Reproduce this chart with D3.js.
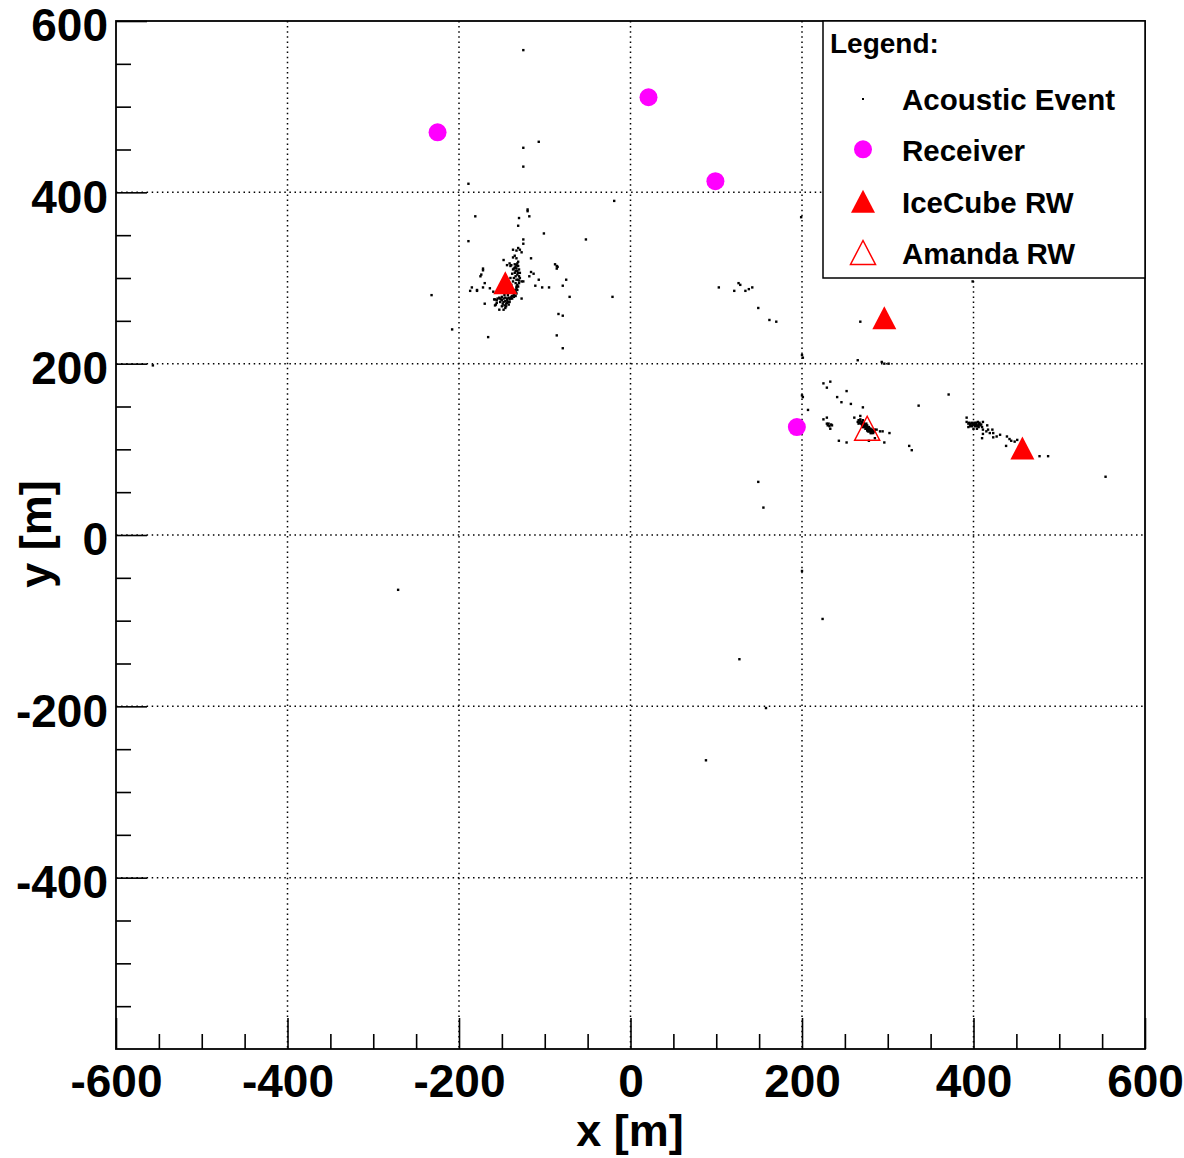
<!DOCTYPE html>
<html>
<head>
<meta charset="utf-8">
<script src="https://cdn.jsdelivr.net/npm/d3@7"></script>
<style>
  body { margin: 0; background: #fff; }
  svg { display: block; }
  text { font-family: "Liberation Sans", Arial, Helvetica, sans-serif; font-weight: bold; fill: #000; }
</style>
</head>
<body>
<svg id="chart" width="1184" height="1158"></svg>
<script>
// ---- data (metres) ----
var xTicks = [-600, -400, -200, 0, 200, 400, 600];
var yTicks = [-400, -200, 0, 200, 400, 600];
var gridValues = [-400, -200, 0, 200, 400];

var receivers = [[-225, 470], [21, 511], [99, 413], [194, 126]];
var icecubeRW = [[-146, 294], [296, 253], [457, 101]];
var amandaRW = [[276, 124]];

var legendLabels = ["Acoustic Event", "Receiver", "IceCube RW", "Amanda RW"];

// acoustic event positions
var events = [
  [-125, 566], [-107, 459], [-125, 452], [-125, 430], [-189, 410],
  [-19, 390], [-181, 372], [-120, 380], [-120, 378], [-118, 372], [-130, 370], [-131, 361],
  [-101, 352], [-189, 343], [-125, 345], [-125, 340], [-52, 345], [-129, 333], [-127, 330],
  [-137, 333], [-135, 326], [-137, 324], [-133, 323], [-116, 323], [-148, 321], [-131, 335],
  [-133, 332], [-131, 319], [-88, 316], [-86, 314], [-86, 311], [-85, 313], [-172, 311],
  [-174, 304], [-175, 302], [-172, 309], [-141, 317], [-144, 315], [-139, 315], [-135, 316],
  [-140, 314], [-136, 311], [-133, 311], [-116, 307], [-113, 305], [-118, 302],
  [-75, 298], [-107, 298], [-103, 289], [-95, 289], [-127, 296], [-125, 296], [-133, 298],
  [-111, 291], [-79, 291], [-170, 294], [-179, 286], [-185, 289], [-187, 285], [-179, 285],
  [-172, 289], [-164, 288], [-160, 284], [-232, 280], [-21, 278], [-71, 278], [-127, 276],
  [-158, 275], [-156, 271], [-152, 272], [-148, 272], [-145, 270], [-141, 275], [-139, 278],
  [-159, 275], [-156, 274], [-150, 274], [-144, 274], [-158, 268], [-150, 267], [-148, 263],
  [-153, 263], [-170, 270], [-157, 269], [-146, 265], [-142, 269], [-84, 258], [-79, 256],
  [-208, 240], [-166, 231], [-86, 233], [-79, 218],
  [-137, 310], [-135, 306], [-134, 302], [-134, 294], [-133, 290], [-135, 286], [-136, 282],
  [-138, 279], [-140, 300], [-139, 292], [-141, 285], [-137, 296], [-138, 305], [-136, 300],
  [-134, 308], [-150, 278], [-146, 277], [-143, 280], [-152, 276], [-147, 280],
  [-131, 314], [-130, 310], [-129, 306], [-130, 302], [-131, 298], [-130, 294], [-131, 290],
  [-132, 286], [-133, 282], [-134, 279], [-132, 304], [-132, 308], [-131, 306], [-129, 300],
  [-130, 297], [-132, 292], [-133, 288], [-134, 284], [-136, 280], [-138, 276], [-140, 276],
  [-142, 277], [-144, 276], [-148, 276], [-151, 275], [-153, 277], [-155, 276], [-146, 273],
  [-143, 272], [-149, 270], [-147, 268], [-145, 267], [-144, 271], [-141, 272], [-136, 278],
  [-135, 312], [-133, 315], [-132, 317], [-134, 313],
  [-557, 198], [-271, -64],
  [103, 289], [121, 285], [126, 294], [128, 292], [134, 285], [138, 287], [142, 289],
  [149, 265], [162, 251], [170, 249], [268, 249], [200, 210], [201, 207], [265, 204],
  [293, 202], [296, 200], [301, 200], [199, 371], [399, 296],
  [225, 177], [229, 172], [233, 179], [200, 163], [201, 161], [241, 161], [246, 155],
  [252, 168], [257, 153], [207, 146], [271, 149], [336, 151], [371, 164],
  [225, 135], [229, 137], [231, 130], [235, 128], [233, 124], [229, 130], [261, 137], [268, 139],
  [230, 128], [232, 127], [234, 129],
  [266, 130], [270, 132], [273, 128], [276, 124], [279, 123], [281, 119], [283, 119],
  [277, 121], [271, 126], [275, 130], [285, 123], [287, 123], [270, 131], [272, 129],
  [274, 127], [276, 126], [278, 124], [280, 121], [282, 120], [268, 133], [266, 134],
  [267, 131], [269, 130], [271, 129], [273, 127], [275, 126], [277, 125], [279, 124],
  [281, 122], [283, 121], [272, 131], [274, 129], [276, 128], [278, 126], [280, 124],
  [282, 123], [284, 121], [270, 128], [272, 126], [274, 124], [276, 122], [278, 121],
  [280, 119], [265, 132], [268, 135], [271, 134],
  [291, 121], [294, 121], [302, 119], [285, 113], [278, 110], [243, 110], [252, 108],
  [296, 108], [325, 104], [328, 99],
  [149, 62], [155, 32], [200, -42], [224, -98], [127, -145], [158, -202], [88, -263],
  [392, 137], [392, 132], [394, 126], [398, 127], [402, 130], [406, 130], [408, 128],
  [410, 126], [404, 124], [400, 124], [411, 132], [416, 128], [411, 123], [415, 121],
  [417, 123], [419, 119], [411, 118], [410, 113], [422, 123], [423, 119], [423, 114],
  [427, 115], [431, 117], [439, 115], [442, 112], [444, 110], [438, 104], [448, 109],
  [451, 111], [477, 92], [487, 92], [554, 68],
  [400, 130], [403, 131], [405, 128], [407, 131], [401, 128], [396, 129], [398, 131],
  [395, 131], [397, 130], [399, 129], [401, 131], [403, 129], [405, 132], [407, 129],
  [409, 129], [402, 127], [404, 127], [406, 126], [396, 127], [394, 130]
];

// ---- layout ----
var frame = { left: 116, right: 1145, top: 21, bottom: 1049 };
var svg = d3.select("#chart");

var x = d3.scaleLinear().domain([-600, 600]).range([frame.left, frame.right]);
var y = d3.scaleLinear().domain([-600, 600]).range([frame.bottom, frame.top]);

// plain hyphen minus, like the original
var fmt = function (d) { return String(d); };

// dotted grid
var grid = svg.append("g").attr("class", "grid")
  .attr("stroke", "#000").attr("stroke-width", 1.5).attr("stroke-dasharray", "1.5,3.6");
grid.selectAll(".gx").data(gridValues).enter().append("line")
  .attr("x1", function (d) { return x(d); }).attr("x2", function (d) { return x(d); })
  .attr("y1", frame.top).attr("y2", frame.bottom);
grid.selectAll(".gy").data(gridValues).enter().append("line")
  .attr("y1", function (d) { return y(d); }).attr("y2", function (d) { return y(d); })
  .attr("x1", frame.left).attr("x2", frame.right);

// acoustic events
svg.append("g").selectAll("rect").data(events).enter().append("rect")
  .attr("x", function (d) { return x(d[0]) - 1.2; })
  .attr("y", function (d) { return y(d[1]) - 1.2; })
  .attr("width", 2.4).attr("height", 2.4).attr("fill", "#000");

// receivers
svg.append("g").selectAll("circle").data(receivers).enter().append("circle")
  .attr("cx", function (d) { return x(d[0]); })
  .attr("cy", function (d) { return y(d[1]); })
  .attr("r", 9).attr("fill", "#ff00ff");

function triPath(cx, cy, s) {
  return "M" + cx + "," + (cy - s) + "L" + (cx + s) + "," + (cy + s * 0.92) +
    "L" + (cx - s) + "," + (cy + s * 0.92) + "Z";
}

svg.append("g").selectAll("path").data(icecubeRW).enter().append("path")
  .attr("d", function (d) { return triPath(x(d[0]), y(d[1]), 12); })
  .attr("fill", "#ff0000");

svg.append("g").selectAll("path").data(amandaRW).enter().append("path")
  .attr("d", function (d) { return triPath(x(d[0]), y(d[1]), 12.5); })
  .attr("fill", "none").attr("stroke", "#ff0000").attr("stroke-width", 1.5);

// axes: ticks point inward
var minorVals = d3.range(-550, 600, 50).filter(function (v) { return v % 200 !== 0; });

var xAxisG = svg.append("g").attr("transform", "translate(0," + frame.bottom + ")");
xAxisG.call(d3.axisBottom(x).tickValues(xTicks).tickSize(-31).tickSizeOuter(0).tickFormat(fmt));
xAxisG.append("g").call(d3.axisBottom(x).tickValues(minorVals).tickSize(-15).tickSizeOuter(0).tickFormat(""));
xAxisG.selectAll("text").attr("y", 48).attr("dy", 0).style("font-size", "46px");

var yAxisG = svg.append("g").attr("transform", "translate(" + frame.left + ",0)");
yAxisG.call(d3.axisLeft(y).tickValues(yTicks).tickSize(-31).tickSizeOuter(0).tickPadding(8).tickFormat(fmt));
yAxisG.append("g").call(d3.axisLeft(y).tickValues(minorVals).tickSize(-15).tickSizeOuter(0).tickFormat(""));
yAxisG.selectAll("text").attr("dy", "0.43em").style("font-size", "46px");

svg.selectAll(".domain").remove();
svg.selectAll(".tick line").attr("stroke", "#000").attr("stroke-width", 1.6);
svg.selectAll(".tick text").attr("fill", "#000");

// frame
svg.append("rect")
  .attr("x", frame.left).attr("y", frame.top)
  .attr("width", frame.right - frame.left).attr("height", frame.bottom - frame.top)
  .attr("fill", "none").attr("stroke", "#000").attr("stroke-width", 1.8);

// axis titles
svg.append("text").attr("x", 630).attr("y", 1146).attr("text-anchor", "middle")
  .style("font-size", "45px").text("x [m]");
svg.append("text").attr("transform", "translate(51,534) rotate(-90)").attr("text-anchor", "middle")
  .style("font-size", "45px").text("y [m]");

// legend
var leg = svg.append("g");
leg.append("rect").attr("x", 823).attr("y", frame.top).attr("width", frame.right - 823).attr("height", 257)
  .attr("fill", "#fff").attr("stroke", "#000").attr("stroke-width", 1.5);
leg.append("text").attr("x", 830).attr("y", 53).style("font-size", "28px").text("Legend:");

var rowY = d3.scalePoint().domain(legendLabels).range([110, 264]);
leg.selectAll(".lab").data(legendLabels).enter().append("text")
  .attr("x", 902).attr("y", function (d) { return rowY(d); })
  .style("font-size", "29.5px").text(function (d) { return d; });

var mx = 863;
leg.append("rect").attr("x", mx - 1).attr("y", rowY(legendLabels[0]) - 12).attr("width", 2).attr("height", 2).attr("fill", "#000");
leg.append("circle").attr("cx", mx).attr("cy", rowY(legendLabels[1]) - 12).attr("r", 9).attr("fill", "#ff00ff");
leg.append("path").attr("d", triPath(mx, rowY(legendLabels[2]) - 11, 12)).attr("fill", "#ff0000");
leg.append("path").attr("d", triPath(mx, rowY(legendLabels[3]) - 11, 12.5))
  .attr("fill", "none").attr("stroke", "#ff0000").attr("stroke-width", 1.5);
</script>
</body>
</html>
